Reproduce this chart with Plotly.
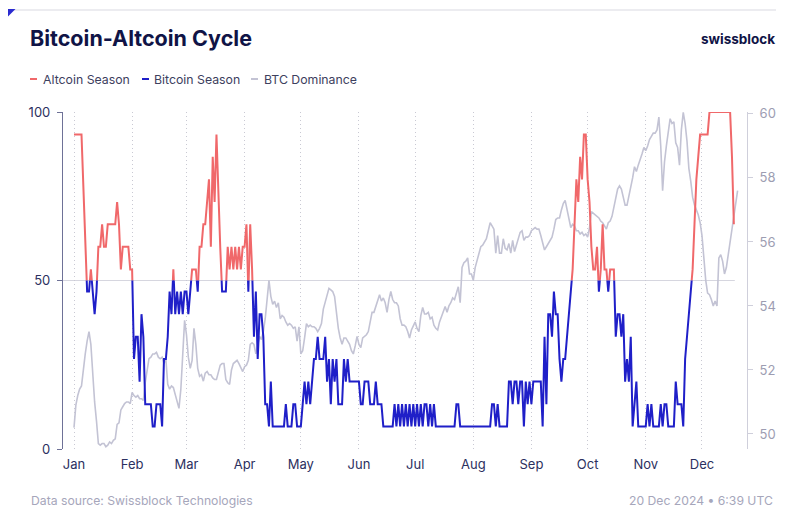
import datetime as dt
import plotly.graph_objects as go

# ---------------- data ----------------
start_date = dt.datetime(2024, 1, 1)

# Bitcoin-Altcoin cycle index (day offset from 1 Jan 2024, value 0-100)
index_days = [0, 4, 7, 8, 9, 10, 11, 12, 13, 14, 15, 16, 17, 18, 22, 23, 24, 25, 26, 29, 30, 31,
              32, 33, 34, 35, 36, 37, 38, 41, 42, 43, 44, 46, 47, 48, 49, 50, 51, 52, 53, 54, 55,
              56, 57, 58, 59, 60, 61, 62, 63, 65, 66, 67, 68, 69, 70, 71, 72, 73, 74, 75, 76, 78,
              79, 81, 82, 83, 84, 85, 86, 87, 88, 89, 90, 91, 92, 93, 94, 95, 96, 97, 98, 99, 100,
              101, 102, 103, 104, 105, 106, 112, 113, 114, 116, 117, 118, 119, 121, 122, 123, 124,
              125, 126, 127, 128, 129, 130, 131, 133, 134, 135, 136, 137, 138, 139, 140, 141, 143,
              144, 145, 146, 147, 152, 153, 154, 155, 157, 158, 160, 161, 162, 164, 165, 170, 171,
              172, 173, 174, 175, 176, 177, 178, 179, 180, 181, 182, 183, 184, 185, 186, 187, 188,
              189, 190, 191, 192, 193, 203, 204, 205, 206, 222, 223, 224, 225, 226, 227, 231, 232,
              233, 234, 235, 236, 237, 238, 239, 240, 241, 242, 243, 244, 245, 249, 250, 251, 252,
              253, 254, 255, 256, 257, 258, 259, 260, 261, 262, 263, 264, 265, 266, 267, 268, 269,
              270, 271, 272, 273, 274, 275, 276, 277, 278, 279, 280, 281, 282, 283, 284, 285, 286,
              288, 289, 290, 291, 292, 293, 294, 295, 296, 297, 298, 299, 300, 301, 305, 306, 307,
              308, 309, 312, 313, 314, 315, 316, 317, 320, 321, 322, 324, 325, 326, 327, 328, 329,
              330, 331, 332, 333, 334, 338, 339, 350, 351, 352]
index_values = [93.3, 93.3, 46.7, 46.7, 53.3, 46.7, 40, 46.7, 60, 60, 66.7, 60, 60, 66.7, 66.7, 73.3,
                66.7, 53.3, 60, 60, 53.3, 53.3,
                26.7, 33.3, 33.3, 20, 40, 33.3, 13.3, 13.3, 6.7, 6.7, 13.3, 13.3, 6.7, 26.7, 26.7,
                33.3, 46.7, 40, 53.3, 40, 46.7,
                40, 46.7, 40, 46.7, 46.7, 40, 46.7, 53.3, 53.3, 46.7, 60, 60, 66.7, 66.7, 73.3, 80,
                60, 86.7, 73.3, 93.3, 60,
                46.7, 46.7, 60, 53.3, 60, 53.3, 60, 53.3, 60, 53.3, 60, 60, 66.7, 46.7, 66.7, 53.3,
                33.3, 46.7, 26.7, 40, 40,
                33.3, 13.3, 13.3, 6.7, 20, 6.7, 6.7, 13.3, 6.7, 6.7, 13.3, 13.3, 6.7, 6.7, 13.3, 20,
                13.3,
                20, 13.3, 20, 26.7, 26.7, 33.3, 26.7, 26.7, 33.3, 20, 26.7, 13.3, 26.7, 20, 26.7,
                13.3, 13.3,
                26.7, 20, 26.7, 20, 20, 13.3, 13.3, 20, 20, 13.3, 13.3, 20, 13.3, 13.3, 6.7, 6.7,
                13.3,
                6.7, 13.3, 6.7, 13.3, 6.7, 13.3, 6.7, 13.3, 6.7, 13.3, 6.7, 13.3, 6.7, 13.3, 6.7,
                13.3, 13.3,
                6.7, 13.3, 6.7, 13.3, 6.7, 6.7, 13.3, 13.3, 6.7, 6.7, 13.3, 13.3, 6.7, 13.3, 6.7,
                6.7, 20,
                20, 13.3, 20, 20, 13.3, 20, 20, 6.7, 20, 13.3, 20, 13.3, 20, 20, 6.7, 33.3, 13.3,
                40, 40, 33.3, 46.7, 40, 40, 26.7, 20, 26.7, 26.7, 33.3, 40, 46.7, 53.3, 66.7, 80,
                73.3,
                86.7, 80, 93.3, 93.3, 80, 73.3, 60, 53.3, 53.3, 60, 46.7, 53.3, 66.7, 53.3, 53.3,
                46.7, 53.3,
                53.3, 33.3, 40, 40, 33.3, 40, 20, 26.7, 20, 33.3, 6.7, 13.3, 20, 6.7, 6.7, 13.3, 6.7,
                13.3, 6.7, 6.7, 13.3, 6.7, 13.3, 13.3, 6.7, 6.7, 20, 13.3, 13.3, 6.7, 26.7, 33.3,
                40, 46.7,
                53.3, 66.7, 80, 86.7, 93.3, 93.3, 100, 100, 86.7, 66.7]

# BTC dominance (%), one value per day from 1 Jan 2024
btc_dominance = [
    50.2, 50.9, 51.2, 51.4, 51.5, 52.1, 52.5, 52.9, 53.2, 52.8,
    51.8, 51.0, 50.4, 49.7, 49.65, 49.7, 49.7, 49.6, 49.65, 49.75,
    49.7, 49.8, 49.85, 50.3, 50.35, 50.75, 50.85, 50.95, 51.0, 51.0,
    50.95, 51.3, 51.2, 51.15, 51.2, 51.1, 51.1, 51.05, 51.6, 51.95,
    52.35, 52.4, 52.5, 52.5, 52.55, 52.4, 52.35, 52.4, 52.2, 52.35,
    51.55, 51.4, 51.5, 51.45, 51.2, 51.0, 50.8, 51.4, 52.4, 53.55,
    53.1, 52.4, 52.05, 52.3, 53.3, 52.8, 52.05, 51.8, 51.85, 51.65,
    51.9, 51.95, 51.85, 51.85, 51.75, 51.7, 51.7, 51.95, 52.15, 52.2,
    52.2, 51.7, 51.6, 51.55, 52.0, 52.2, 52.25, 52.3, 52.2, 52.05,
    51.95, 52.1, 52.15, 52.3, 52.8, 52.85, 52.8, 52.5, 52.75, 53.05,
    52.95, 53.2, 53.6, 54.3, 54.8, 54.3, 54.05, 54.15, 53.95, 54.1,
    53.6, 53.7, 53.65, 53.5, 53.4, 53.45, 53.4, 53.3, 53.35, 52.9,
    53.35, 52.5, 52.6, 53.0, 53.45, 53.35, 53.4, 53.35, 53.35, 53.3,
    53.2, 53.3, 53.45, 53.9, 54.1, 54.3, 54.55, 54.5, 54.45, 54.3,
    53.7, 53.3, 53.0, 52.8, 53.0, 53.0, 52.9, 52.8, 52.6, 52.5,
    52.75, 53.05, 52.8, 52.7, 53.0, 53.05, 53.1, 53.2, 53.45, 53.8,
    53.8, 54.0, 54.2, 54.35, 54.15, 54.25, 54.1, 53.8, 54.2, 54.45,
    54.2, 54.1, 54.1, 54.0, 53.6, 53.4, 53.4, 53.35, 53.2, 53.0,
    53.25, 53.4, 53.5, 53.3, 53.2, 53.7, 53.95, 53.75, 53.75, 53.8,
    53.6, 53.65, 53.4, 53.3, 53.25, 53.5, 53.65, 53.8, 53.98, 53.8,
    54.0, 54.1, 54.25, 54.2, 54.4, 54.6, 54.1, 55.2, 55.35, 55.4,
    55.5, 55.0, 55.0, 54.8, 55.2, 55.4, 55.65, 55.85, 55.9, 56.0,
    56.1, 56.35, 56.6, 56.5, 56.4, 55.65, 56.2, 55.65, 55.65, 56.1,
    55.8, 55.75, 55.95, 55.65, 56.05, 55.7, 55.9, 56.15, 56.3, 56.35,
    56.05, 56.15, 56.15, 56.2, 56.35, 56.4, 56.45, 56.4, 56.4, 56.2,
    55.95, 55.75, 55.85, 55.95, 56.05, 56.15, 56.4, 56.7, 56.75, 56.75,
    57.0, 57.2, 57.3, 57.05, 56.8, 56.45, 56.55, 56.5, 56.35, 56.35,
    56.25, 56.3, 56.2, 56.25, 56.15, 56.45, 56.95, 56.9, 56.85, 56.8,
    56.75, 56.65, 56.6, 56.5, 56.4, 56.6, 56.65, 56.8, 57.1, 57.4,
    57.65, 57.75, 57.65, 57.4, 57.15, 57.15, 57.4, 57.7, 58.0, 58.35,
    58.2, 58.4, 58.55, 58.75, 58.95, 58.85, 59.0, 59.2, 59.3, 59.4,
    59.4, 59.5, 59.9, 59.0, 57.6, 58.5, 59.0, 59.4, 59.85, 59.7,
    59.75, 59.1, 58.95, 58.4, 59.5, 60.05, 59.7, 59.15, 58.3, 57.9,
    57.4, 57.15, 57.0, 56.85, 56.6, 56.2, 55.5, 54.8, 54.4, 54.35,
    54.2, 54.0, 54.15, 54.0, 55.5, 55.6, 55.4, 55.0, 55.2, 55.6,
    55.9, 56.3, 56.7, 57.15, 57.6,
]

month_labels = ["Jan", "Feb", "Mar", "Apr", "May", "Jun", "Jul", "Aug", "Sep", "Oct", "Nov", "Dec"]
left_ticks = [0, 50, 100]
right_ticks = [50, 52, 54, 56, 58, 60]
threshold = 50

# ---------------- styling ----------------
RED = "#f0686a"
BLUE = "#1f1fc8"
GRAY = "#c3c3d4"
NAVY = "#101446"
AXIS_TXT = "#2c3060"
FONT = "Inter"

OFF = 8  # page body margin in the browser
W, H = 793 - OFF, 518 - OFF
PLOT_L, PLOT_R, PLOT_T, PLOT_B = 63, 747, 112, 449  # reference pixel box of the plot area
ML, MT = PLOT_L - OFF, PLOT_T - OFF
MR, MB = W - (PLOT_R - OFF), H - (PLOT_B - OFF)
PW, PH = PLOT_R - PLOT_L, PLOT_B - PLOT_T


def day_to_date(d):
    return start_date + dt.timedelta(days=float(d))


def px(x, y):
    return (x - PLOT_L) / PW, (PLOT_B - y) / PH


# split index into altcoin (>=50) and bitcoin (<=50) parts with crossings
xs, ys = [], []
for i in range(len(index_days)):
    xs.append(index_days[i])
    ys.append(index_values[i])
    if i + 1 < len(index_days):
        a, b = index_values[i], index_values[i + 1]
        if (a - threshold) * (b - threshold) < 0:
            t = (threshold - a) / (b - a)
            xs.append(index_days[i] + t * (index_days[i + 1] - index_days[i]))
            ys.append(threshold)
dates = [day_to_date(d) for d in xs]
alt_y = [v if v >= threshold else None for v in ys]
btc_y = [v if v <= threshold else None for v in ys]
dom_dates = [day_to_date(i) for i in range(len(btc_dominance))]

fig = go.Figure()
fig.add_trace(go.Scatter(x=dom_dates, y=btc_dominance, mode="lines", name="BTC Dominance",
                         line=dict(color=GRAY, width=1.6), yaxis="y"))
fig.add_trace(go.Scatter(x=dates, y=alt_y, mode="lines", name="Altcoin Season",
                         line=dict(color=RED, width=2), yaxis="y2", connectgaps=False))
fig.add_trace(go.Scatter(x=dates, y=btc_y, mode="lines", name="Bitcoin Season",
                         line=dict(color=BLUE, width=2), yaxis="y2", connectgaps=False))

x_lo = day_to_date((PLOT_L - 74) / 1.8746)
x_hi = day_to_date((PLOT_R - 74) / 1.8746)

fig.update_layout(
    width=W, height=H,
    margin=dict(l=ML, r=MR, t=MT, b=MB, pad=0),
    paper_bgcolor="white", plot_bgcolor="white",
    showlegend=False,
    font=dict(family=FONT, size=13, color=AXIS_TXT),
    xaxis=dict(
        type="date", range=[x_lo, x_hi],
        tickvals=[dt.datetime(2024, m, 1) for m in range(1, 13)], ticktext=month_labels,
        showgrid=True, gridcolor="#c9c9d3", griddash="1px,3px", gridwidth=1,
        showline=False, zeroline=False, ticks="", ticklabelstandoff=6,
        tickfont=dict(size=13, color=AXIS_TXT),
    ),
    yaxis=dict(
        side="right", range=[49.53, 60.06], tickvals=right_ticks,
        showgrid=False, zeroline=False, showline=True, linecolor="#cfcfdb", linewidth=1,
        ticks="outside", ticklen=5, tickcolor="#cfcfdb", ticklabelstandoff=4,
        tickfont=dict(size=13, color="#9d9db2"),
    ),
    yaxis2=dict(
        overlaying="y", side="left", range=[0, 100], tickvals=left_ticks,
        showgrid=False, zeroline=False, showline=True, linecolor="#6e7197", linewidth=1.2,
        ticks="outside", ticklen=5, tickcolor="#6e7197", ticklabelstandoff=4,
        tickfont=dict(size=13, color=AXIS_TXT),
    ),
)

shapes = []
# 50 reference line
shapes.append(dict(type="line", xref="x", yref="y2", x0=x_lo, x1=day_to_date(index_days[-1] + 0.5),
                   y0=threshold, y1=threshold, line=dict(color="#d6d6df", width=1), layer="below"))
# top rule and corner triangle
a = px(14, 10); b = px(776, 10)
shapes.append(dict(type="line", xref="paper", yref="paper", x0=a[0], y0=a[1], x1=b[0], y1=b[1],
                   line=dict(color="#d9d9e1", width=1)))
p1, p2, p3 = px(5, 9), px(15.5, 9), px(5, 19.5)
shapes.append(dict(type="path", xref="paper", yref="paper",
                   path=f"M {p1[0]},{p1[1]} L {p2[0]},{p2[1]} L {p3[0]},{p3[1]} Z",
                   fillcolor="#2b2bd0", line=dict(width=0)))
# legend swatches
for x0, col in [(30, RED), (142, BLUE), (251, GRAY)]:
    s, e = px(x0, 79), px(x0 + 7, 79)
    shapes.append(dict(type="line", xref="paper", yref="paper", x0=s[0], y0=s[1], x1=e[0], y1=e[1],
                       line=dict(color=col, width=2)))
fig.update_layout(shapes=shapes)

ann = []


def add_text(text, x, y, size, color, anchor="left", weight=None):
    p = px(x, y)
    f = dict(family=FONT, size=size, color=color)
    if weight:
        f["weight"] = weight
    ann.append(dict(text=text, x=p[0], y=p[1], xref="paper", yref="paper", xanchor=anchor,
                    yanchor="middle", showarrow=False, font=f))


add_text("Bitcoin-Altcoin Cycle", 28, 38, 21.5, NAVY, weight=700)
add_text("swissblock", 777, 39, 13.5, NAVY, anchor="right", weight=700)
add_text("Altcoin Season", 41, 79, 12.3, "#3d405e")
add_text("Bitcoin Season", 152, 79, 12.3, "#3d405e")
add_text("BTC Dominance", 262, 79, 12.3, "#3d405e")
add_text("Data source: Swissblock Technologies", 29, 500, 12.2, "#a6a6bb")
add_text("20 Dec 2024 \u2022 6:39 UTC", 775, 500, 12.2, "#a6a6bb", anchor="right")
fig.update_layout(annotations=ann)

fig.write_html("out.html")
